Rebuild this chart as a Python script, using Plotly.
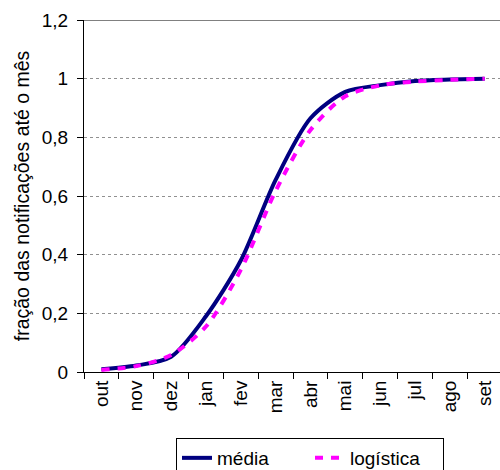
import plotly.graph_objects as go

meses = ["out", "nov", "dez", "jan", "fev", "mar", "abr", "mai", "jun", "jul", "ago", "set"]
media = [0.009, 0.022, 0.052, 0.19, 0.38, 0.655, 0.865, 0.955, 0.978, 0.992, 0.997, 1.0]
logistica = [0.007, 0.02, 0.058, 0.155, 0.348, 0.617, 0.825, 0.94, 0.977, 0.99, 0.996, 1.0]
yticks = [0, 0.2, 0.4, 0.6, 0.8, 1.0, 1.2]

FONT = "Liberation Sans, Arial, sans-serif"

fig = go.Figure()
fig.add_trace(go.Scatter(
    x=meses, y=media, name="média", mode="lines",
    line=dict(color="#000080", width=4, shape="spline", smoothing=0.8),
))
fig.add_trace(go.Scatter(
    x=meses, y=logistica, name="logística", mode="lines",
    line=dict(color="#FF00FF", width=4, dash="8px,8px", shape="spline", smoothing=0.8),
))

fig.add_shape(type="line", xref="paper", yref="y", x0=0, x1=1, y0=1.2, y1=1.2,
              line=dict(color="#808080", width=2))

fig.update_layout(
    width=500, height=470,
    margin=dict(l=84, r=0, t=20, b=98, autoexpand=False),
    paper_bgcolor="white", plot_bgcolor="white",
    separators=",.",
    font=dict(family=FONT, color="black", size=17),
    showlegend=True,
    legend=dict(
        orientation="h", xref="container", yref="container",
        x=176 / 500, xanchor="left", y=1 - 438 / 470, yanchor="top",
        entrywidth=88, entrywidthmode="pixels",
        bordercolor="black", borderwidth=1, font=dict(size=19),
        traceorder="normal",
    ),
    xaxis=dict(
        type="category", range=[-0.5, 11.44], tickson="boundaries",
        ticks="outside", ticklen=6, tickcolor="black",
        showline=True, linecolor="black", linewidth=1,
        showgrid=False, zeroline=False, tickangle=-90,
        tickfont=dict(size=19), automargin=False,
    ),
    yaxis=dict(
        range=[0, 1.2], tickvals=yticks, ticks="outside", ticklen=6,
        tickcolor="black", showline=True, linecolor="black", linewidth=1,
        showgrid=True, gridcolor="#909090", griddash="dot", gridwidth=1,
        zeroline=False, tickfont=dict(size=19), automargin=False,
        ticklabelstandoff=5,
        title=dict(text="fração das notificações até o mês", font=dict(size=19.5), standoff=6),
    ),
)

fig.write_html("out.html", post_script="document.body.style.margin='0';",
               config={"displayModeBar": False})
